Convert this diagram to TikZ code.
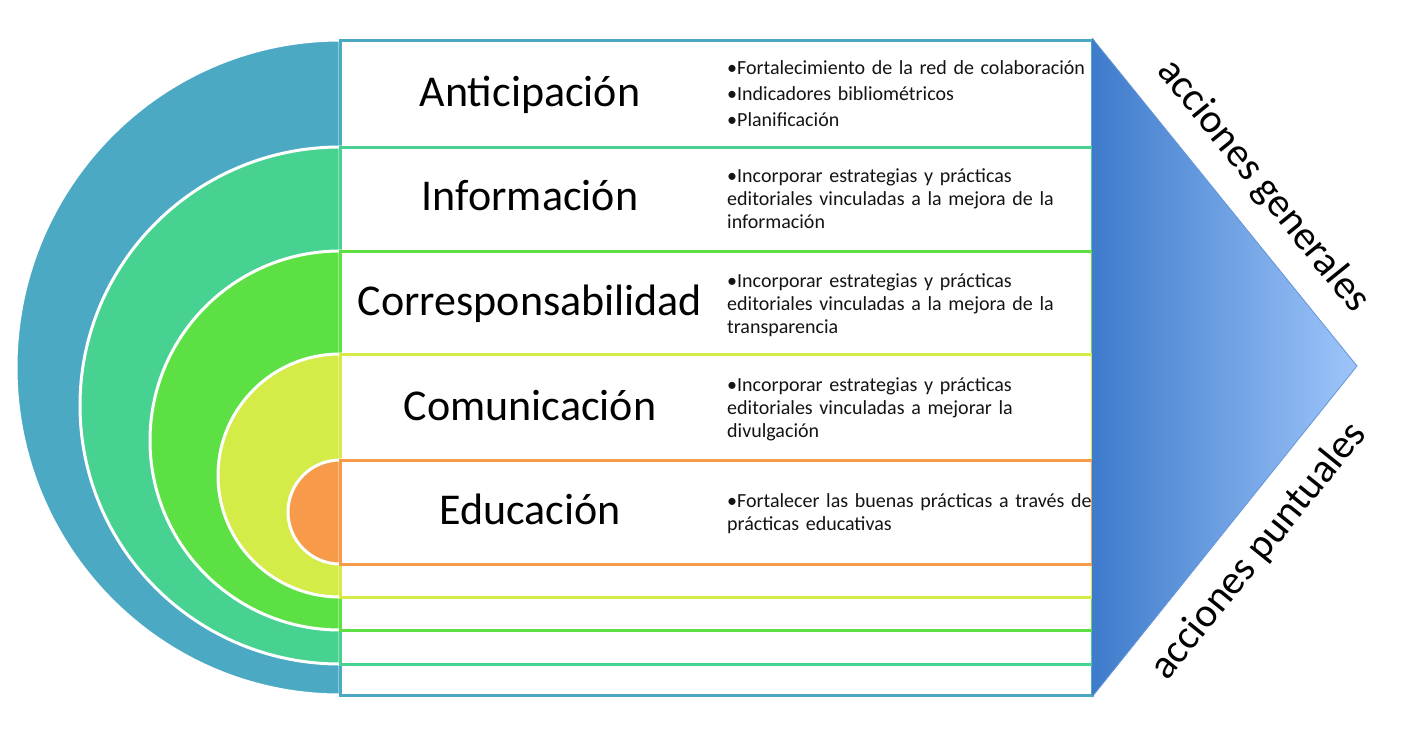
\documentclass[tikz,border=0pt]{standalone}
\usepackage{fontspec}
\setmainfont{Carlito}
\definecolor{cblue}{HTML}{4BA9C4}
\definecolor{cteal}{HTML}{48D292}
\definecolor{cgreen}{HTML}{5DE043}
\definecolor{cyellow}{HTML}{D5EB47}
\definecolor{corange}{HTML}{F79A4A}
\definecolor{tleft}{HTML}{3E7BCB}
\definecolor{tright}{HTML}{9EC5FA}
\newcommand\bitem{\setbox0\hbox{•}\hangindent=\wd0 \hangafter=1 •}
\begin{document}
\begin{tikzpicture}[x=1pt,y=-1pt,
  layer/.style={draw=#1, line width=3pt, fill=white},
  half/.style={fill=#1, draw=white, line width=3pt},
  title/.style={font=\fontsize{44}{50}\selectfont, anchor=base, inner sep=0pt},
  bul/.style={font=\fontsize{20}{23}\selectfont, anchor=base west, text width=390pt, align=left, inner sep=0pt, text=black!92},
  side/.style={font=\fontsize{41}{45}\selectfont, anchor=center, inner sep=0pt}]
\useasboundingbox (0,0) rectangle (1420,737);
% layers
\path[half=cblue] (340,40) arc[start angle=270, end angle=90, x radius=324, y radius=327.5] -- cycle;
\path[layer=cblue] (340,40) rectangle (1092,695);
\path[half=cteal] (340,147) arc[start angle=270, end angle=90, x radius=260, y radius=258.5] -- cycle;
\path[layer=cteal] (340,147) rectangle (1092,664);
\path[half=cgreen] (340,251) arc[start angle=270, end angle=90, x radius=190, y radius=189.5] -- cycle;
\path[layer=cgreen] (340,251) rectangle (1092,630);
\path[half=cyellow] (340,354) arc[start angle=270, end angle=90, x radius=122, y radius=121.5] -- cycle;
\path[layer=cyellow] (340,354) rectangle (1092,597);
\path[half=corange] (340,460) arc[start angle=270, end angle=90, x radius=52, y radius=52] -- cycle;
\path[layer=corange] (340,460) rectangle (1092,564);
% triangle
\shade[left color=tleft, right color=tright] (1092,38) -- (1357,366) -- (1092,697) -- cycle;
\draw[tleft!80!white, line width=0.8pt] (1092,38) -- (1357,366) -- (1092,697);
% titles
\node[title] (t1) at (530,106) {Anticipación};
\node[title] (t2) at (530,210) {Información};
\node[title] (t3) at (530,315) {Corresponsabilidad};
\node[title] (t4) at (530,420) {Comunicación};
\node[title] (t5) at (530,524) {Educación};
% bullets
\node[bul] (b1) at (727,74) {\bitem Fortalecimiento de la red de colaboración\\[3pt]\bitem Indicadores bibliométricos\\[3pt]\bitem Planificación};
\node[bul] (b2) at (727,182) {\bitem Incorporar estrategias y prácticas\\ editoriales vinculadas a la mejora de la\\ información};
\node[bul] (b3) at (727,287) {\bitem Incorporar estrategias y prácticas\\ editoriales vinculadas a la mejora de la\\ transparencia};
\node[bul] (b4) at (727,391) {\bitem Incorporar estrategias y prácticas\\ editoriales vinculadas a mejorar la\\ divulgación};
\node[bul] (b5) at (727,507) {\bitem Fortalecer las buenas prácticas a través de\\ prácticas educativas};
% side labels
\node[side, rotate=-51] (s1) at (1263,186) {acciones generales};
\node[side, rotate=51] (s2) at (1259,551) {acciones puntuales};
\end{tikzpicture}
\end{document}
